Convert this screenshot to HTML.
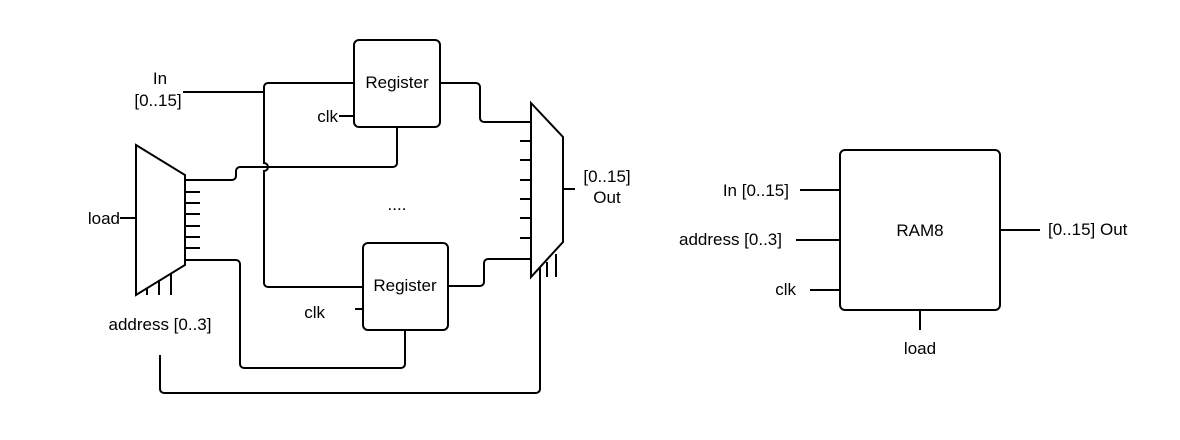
<!DOCTYPE html>
<html><head><style>html,body{margin:0;padding:0;background:#fff;}</style></head>
<body>
<svg width="1180" height="435" viewBox="0 0 1180 435" xmlns="http://www.w3.org/2000/svg" font-family="Liberation Sans, sans-serif" font-size="17" fill="none" stroke="#000" stroke-width="2">
<!-- demux -->
<polygon points="136,145 185,175 185,265 136,295"/>
<g>
<line x1="185" y1="180" x2="200" y2="180"/>
<line x1="185" y1="192" x2="200" y2="192"/>
<line x1="185" y1="203" x2="200" y2="203"/>
<line x1="185" y1="214" x2="200" y2="214"/>
<line x1="185" y1="226" x2="200" y2="226"/>
<line x1="185" y1="237" x2="200" y2="237"/>
<line x1="185" y1="248" x2="200" y2="248"/>
<line x1="185" y1="260" x2="200" y2="260"/>
<line x1="147" y1="288" x2="147" y2="295"/>
<line x1="159" y1="280" x2="159" y2="295"/>
<line x1="171" y1="274" x2="171" y2="295"/>
<line x1="120" y1="218" x2="136" y2="218"/>
</g>
<!-- registers -->
<rect x="354" y="40" width="86" height="87" rx="5"/>
<rect x="363" y="243" width="85" height="87" rx="5"/>
<!-- mux -->
<polygon points="531,103 563,137 563,242 531,277"/>
<g>
<line x1="520" y1="141" x2="531" y2="141"/>
<line x1="520" y1="160" x2="531" y2="160"/>
<line x1="520" y1="180" x2="531" y2="180"/>
<line x1="520" y1="199" x2="531" y2="199"/>
<line x1="520" y1="218" x2="531" y2="218"/>
<line x1="520" y1="238" x2="531" y2="238"/>
<line x1="563" y1="189" x2="575" y2="189"/>
<line x1="547" y1="262" x2="547" y2="277"/>
<line x1="556" y1="254" x2="556" y2="277"/>
</g>
<!-- wires -->
<path d="M183,92 H264 V163 a4,4 0 0 1 0,8 V283 a4,4 0 0 0 4,4 H363"/>
<path d="M264,92 V87 a4,4 0 0 1 4,-4 H354"/>
<line x1="339" y1="116" x2="354" y2="116"/>
<line x1="355" y1="309" x2="363" y2="309"/>
<path d="M200,180 H232 a4,4 0 0 0 4,-4 V171 a4,4 0 0 1 4,-4 H393 a4,4 0 0 0 4,-4 V127"/>
<path d="M440,83 H476 a4,4 0 0 1 4,4 V118 a4,4 0 0 0 4,4 H531"/>
<path d="M448,286 H480 a4,4 0 0 0 4,-4 V263 a4,4 0 0 1 4,-4 H531"/>
<path d="M200,260 H236 a4,4 0 0 1 4,4 V364 a4,4 0 0 0 4,4 H401 a4,4 0 0 0 4,-4 V330"/>
<path d="M540,268 V389 a4,4 0 0 1 -4,4 H164 a4,4 0 0 1 -4,-4 V355"/>
<!-- RAM8 -->
<rect x="840" y="150" width="160" height="160" rx="5"/>
<line x1="800" y1="190" x2="840" y2="190"/>
<line x1="796" y1="240" x2="840" y2="240"/>
<line x1="810" y1="290" x2="840" y2="290"/>
<line x1="1000" y1="230" x2="1040" y2="230"/>
<line x1="920" y1="310" x2="920" y2="330"/>
<g fill="#000" stroke="none">
<text x="160" y="84" text-anchor="middle">In</text>
<text x="158" y="106" text-anchor="middle">[0..15]</text>
<text x="120" y="224" text-anchor="end">load</text>
<text x="397" y="88" text-anchor="middle">Register</text>
<text x="405" y="291" text-anchor="middle">Register</text>
<text x="338" y="122" text-anchor="end">clk</text>
<text x="325" y="318" text-anchor="end">clk</text>
<text x="397" y="210" text-anchor="middle">....</text>
<text x="607" y="182" text-anchor="middle">[0..15]</text>
<text x="607" y="203" text-anchor="middle">Out</text>
<text x="160" y="330" text-anchor="middle">address [0..3]</text>
<text x="920" y="236" text-anchor="middle">RAM8</text>
<text x="789" y="196" text-anchor="end">In [0..15]</text>
<text x="782" y="245" text-anchor="end">address [0..3]</text>
<text x="796" y="295" text-anchor="end">clk</text>
<text x="1048" y="235">[0..15] Out</text>
<text x="920" y="354" text-anchor="middle">load</text>
</g>
</svg>
</body></html>
